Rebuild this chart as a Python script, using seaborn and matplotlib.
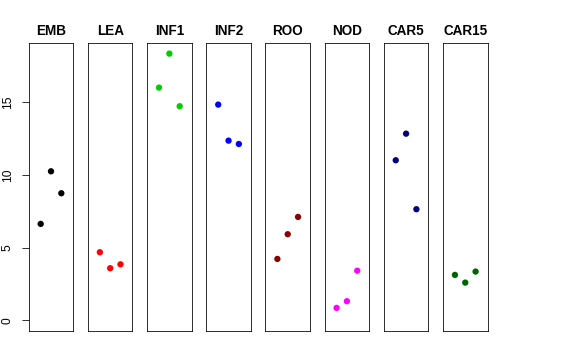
import matplotlib
matplotlib.use("Agg")
import matplotlib.pyplot as plt
import seaborn as sns
import pandas as pd

sns.set_style("white")
plt.rcParams['font.family'] = ['Liberation Sans', 'DejaVu Sans']
plt.rcParams['text.color'] = 'black'
plt.rcParams['axes.labelcolor'] = 'black'
plt.rcParams['ytick.color'] = 'black'
plt.rcParams['ytick.labelcolor'] = 'black'

tissues = ["EMB", "LEA", "INF1", "INF2", "ROO", "NOD", "CAR5", "CAR15"]
colors = ["#000000", "#FF0000", "#00CD00", "#0000FF", "#8B0000", "#FF00FF", "#000080", "#006400"]
replicate = [1, 2, 3]
emb = [6.63, 10.25, 8.74]
lea = [4.68, 3.58, 3.85]
inf1 = [16.01, 18.35, 14.73]
inf2 = [14.84, 12.36, 12.13]
roo = [4.22, 5.92, 7.11]
nod = [0.85, 1.31, 3.41]
car5 = [11.01, 12.84, 7.64]
car15 = [3.12, 2.59, 3.35]
values = [emb, lea, inf1, inf2, roo, nod, car5, car15]
yticks = [0, 5, 10, 15]

W, H = 576, 360
fig = plt.figure(figsize=(W / 72, H / 72), dpi=72)

left0, step, pw = 28.7, 59.18, 44.6
top, bottom = 43, 331

for i, (name, col, vals) in enumerate(zip(tissues, colors, values)):
    left = left0 + i * step
    ax = fig.add_axes([left / W, (H - bottom) / H, pw / W, (bottom - top) / H])
    df = pd.DataFrame({"x": replicate, "y": vals})
    sns.scatterplot(data=df, x="x", y="y", ax=ax, color=col, s=40,
                    edgecolor="none", linewidth=0, legend=False)
    ax.set_xlim(-0.16, 4.16)
    ax.set_ylim(-0.74, 19.08)
    ax.set_xticks([])
    ax.set_xlabel("")
    ax.set_ylabel("")
    for sp in ax.spines.values():
        sp.set_visible(True)
        sp.set_color("#000000")
        sp.set_linewidth(0.8)
    ax.set_title(name, fontsize=13.5, fontweight="bold", pad=8, color="black")
    if i == 0:
        ax.set_yticks(yticks)
        ax.set_yticklabels([str(t) for t in yticks], rotation=90, va="center", fontsize=12)
        ax.tick_params(axis="y", left=True, length=7, width=0.8, pad=8,
                       color="#000000", labelcolor="#000000")
    else:
        ax.set_yticks([])

fig.savefig("out.png", dpi=72)
